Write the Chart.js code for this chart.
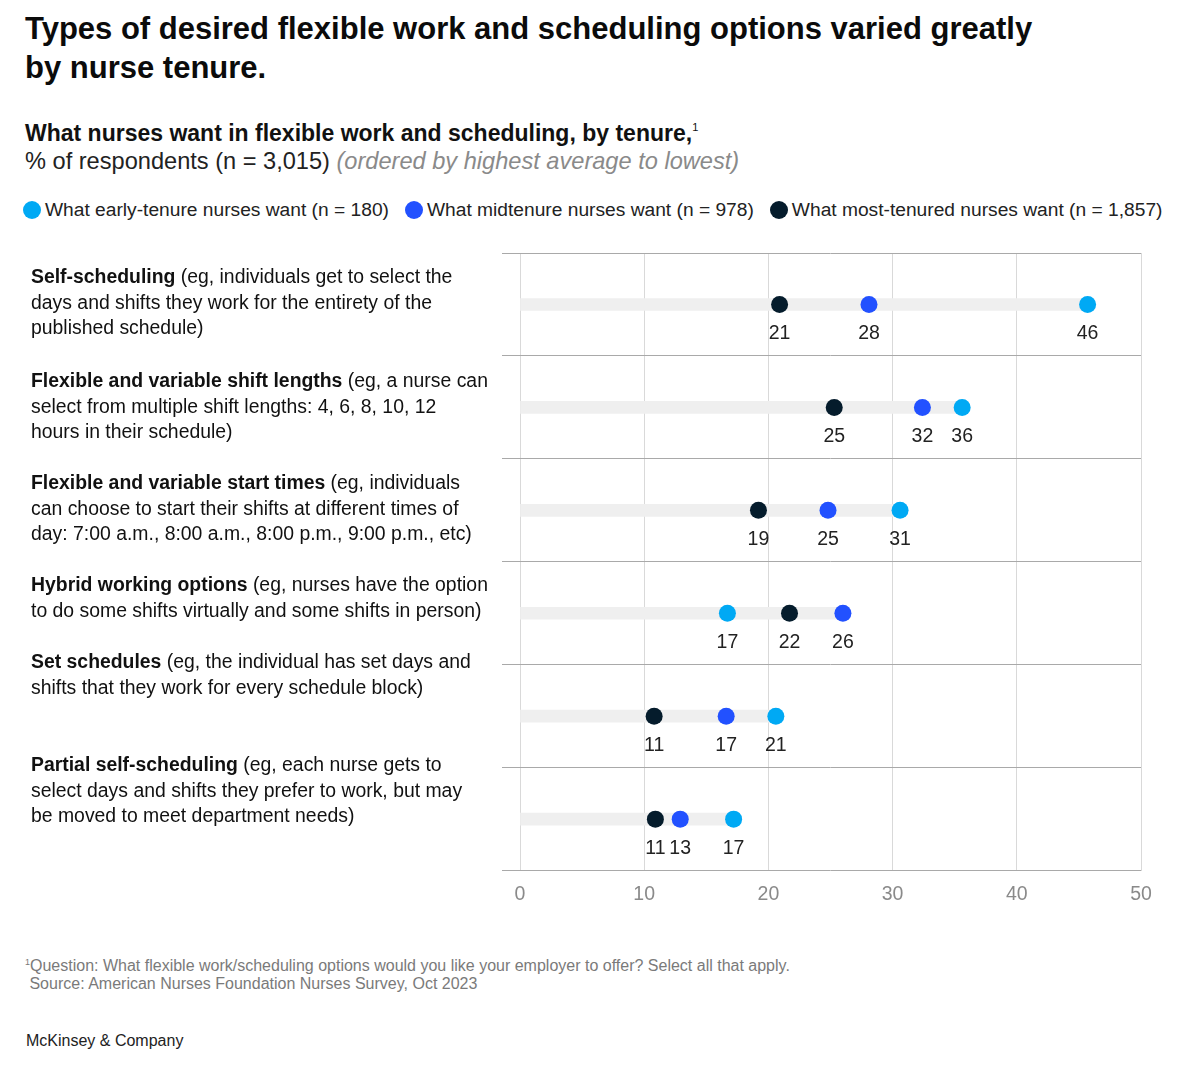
<!DOCTYPE html>
<html>
<head>
<meta charset="utf-8">
<script src="https://cdn.jsdelivr.net/npm/chart.js@4.4.1/dist/chart.umd.min.js"></script>
<style>
    body { margin: 0; background: #fff; font-family: "Liberation Sans", Arial, sans-serif; color: #111; }
    #page { position: relative; width: 1200px; height: 1066px; overflow: hidden; }
    .abs { position: absolute; white-space: nowrap; }
    #title { left: 25px; top: 9px; font-size: 31px; font-weight: bold; line-height: 39px; color: #0b0b0b; }
    #sub1 { left: 25px; top: 120px; font-size: 23px; font-weight: bold; }
    #sub1 sup { font-size: 11px; font-weight: normal; vertical-align: 10px; }
    #sub2 { left: 25px; top: 148px; font-size: 23.6px; color: #222; }
    #sub2 i { color: #8a8a8a; }
    #legend { left: 23px; top: 199px; font-size: 19.2px; color: #222; display: flex; }
    #legend span.item { display: flex; align-items: center; margin-right: 16px; }
    #legend span.dot { width: 18px; height: 18px; border-radius: 50%; display: inline-block; margin-right: 4px; }
    #foot { left: 25px; top: 953px; font-size: 16px; color: #7a7a7a; line-height: 18px; }
    #brand { left: 26px; top: 1032px; font-size: 16px; color: #222; }
    #wrap { position: absolute; left: 0; top: 240px; width: 1200px; height: 680px; }
</style>
</head>
<body>
<div id="page">
    <div id="title" class="abs">Types of desired flexible work and scheduling options varied greatly<br>by nurse tenure.</div>
    <div id="sub1" class="abs">What nurses want in flexible work and scheduling, by tenure,<sup>1</sup></div>
    <div id="sub2" class="abs">% of respondents (n = 3,015) <i>(ordered by highest average to lowest)</i></div>
    <div id="legend" class="abs"></div>
    <div id="wrap"><canvas id="dotChart"></canvas></div>
    <div id="foot" class="abs"><sup style="font-size:9px">1</sup>Question: What flexible work/scheduling options would you like your employer to offer? Select all that apply.<br>&nbsp;Source: American Nurses Foundation Nurses Survey, Oct 2023</div>
    <div id="brand" class="abs">McKinsey &amp; Company</div>
</div>
<script>
// categories (bold part) and the rest of each label, already broken into lines
const categories = [
    "Self-scheduling",
    "Flexible and variable shift lengths",
    "Flexible and variable start times",
    "Hybrid working options",
    "Set schedules",
    "Partial self-scheduling"
];
const labelLines = [
    [" (eg, individuals get to select the", "days and shifts they work for the entirety of the", "published schedule)"],
    [" (eg, a nurse can", "select from multiple shift lengths: 4, 6, 8, 10, 12", "hours in their schedule)"],
    [" (eg, individuals", "can choose to start their shifts at different times of", "day: 7:00 a.m., 8:00 a.m., 8:00 p.m., 9:00 p.m., etc)"],
    [" (eg, nurses have the option", "to do some shifts virtually and some shifts in person)"],
    [" (eg, the individual has set days and", "shifts that they work for every schedule block)"],
    [" (eg, each nurse gets to", "select days and shifts they prefer to work, but may", "be moved to meet department needs)"]
];
// where the first text line sits, relative to the top of its row
const labelOffsets = [25, 26, 25, 24, -2, -2];

const seriesNames = [
    "What early-tenure nurses want (n = 180)",
    "What midtenure nurses want (n = 978)",
    "What most-tenured nurses want (n = 1,857)"
];
const earlyTenure = [45.7, 35.6, 30.6, 16.7, 20.6, 17.2];
const midTenure = [28.1, 32.4, 24.8, 26.0, 16.6, 12.9];
const mostTenured = [20.9, 25.3, 19.2, 21.7, 10.8, 10.9];
const xTicks = [0, 10, 20, 30, 40, 50];

const colors = ["#00a9f4", "#2251ff", "#051c2c"];

// html legend
const legendEl = document.getElementById("legend");
seriesNames.forEach(function (name, i) {
    legendEl.innerHTML += '<span class="item"><span class="dot" style="background:' + colors[i] + '"></span>' + name + '</span>';
});

const maxVals = earlyTenure.map((v, i) => Math.max(v, midTenure[i], mostTenured[i]));

const FONT = "'Liberation Sans', Arial, sans-serif";

// draws the category text on the left
const labelPlugin = {
    id: "catLabels",
    afterDraw(chart) {
        const ctx = chart.ctx;
        const y = chart.scales.y;
        const half = (y.getPixelForValue(1) - y.getPixelForValue(0)) / 2;
        ctx.save();
        ctx.textBaseline = "middle";
        ctx.fillStyle = "#111";
        categories.forEach(function (cat, i) {
            const top = y.getPixelForValue(i) - half;
            let ly = top + labelOffsets[i];
            ctx.font = "bold 19.4px " + FONT;
            ctx.fillText(cat, 31, ly);
            const w = ctx.measureText(cat).width;
            ctx.font = "19.4px " + FONT;
            labelLines[i].forEach(function (line, j) {
                if (j === 0) ctx.fillText(line, 31 + w, ly);
                else ctx.fillText(line, 31, ly + j * 25.5);
            });
        });
        ctx.restore();
    }
};

// value labels under each dot
const valuePlugin = {
    id: "valueLabels",
    afterDatasetsDraw(chart) {
        const ctx = chart.ctx;
        ctx.save();
        ctx.font = "19.5px " + FONT;
        ctx.fillStyle = "#222";
        ctx.textAlign = "center";
        ctx.textBaseline = "middle";
        for (let d = 0; d < 3; d++) {
            const meta = chart.getDatasetMeta(d);
            meta.data.forEach(function (pt, i) {
                const v = chart.data.datasets[d].data[i];
                ctx.fillText(Math.round(v), pt.x, pt.y + 29);
            });
        }
        ctx.restore();
    }
};

const chart = new Chart(document.getElementById("dotChart"), {
    type: "bar",
    data: {
        labels: categories,
        datasets: [
            { type: "line", label: seriesNames[0], data: earlyTenure, showLine: false, pointRadius: 8.5, pointBackgroundColor: colors[0], pointBorderWidth: 0, order: 0 },
            { type: "line", label: seriesNames[1], data: midTenure, showLine: false, pointRadius: 8.5, pointBackgroundColor: colors[1], pointBorderWidth: 0, order: 0 },
            { type: "line", label: seriesNames[2], data: mostTenured, showLine: false, pointRadius: 8.5, pointBackgroundColor: colors[2], pointBorderWidth: 0, order: 0 },
            { type: "bar", label: "range", data: maxVals.map(m => [0, m]), backgroundColor: "#efefef", barThickness: 12, borderSkipped: false, order: 1 }
        ]
    },
    options: {
        indexAxis: "y",
        responsive: true,
        maintainAspectRatio: false,
        animation: false,
        layout: { padding: { left: 502, right: 59, top: 13, bottom: 2 } },
        plugins: { legend: { display: false }, tooltip: { enabled: false } },
        scales: {
            x: {
                type: "linear",
                min: xTicks[0],
                max: xTicks[xTicks.length - 1],
                afterBuildTicks: (s) => { s.ticks = xTicks.map(v => ({ value: v })); },
                ticks: { color: "#8a8a8a", font: { size: 19.5, family: FONT }, padding: 12 },
                grid: { color: "#d9d9d9", drawTicks: false },
                border: { display: false }
            },
            y: {
                type: "category",
                ticks: { display: false },
                grid: { offset: true, color: "#a9a9a9", tickLength: 18 },
                border: { display: false }
            }
        }
    },
    plugins: [labelPlugin, valuePlugin]
});
</script>
</body>
</html>
